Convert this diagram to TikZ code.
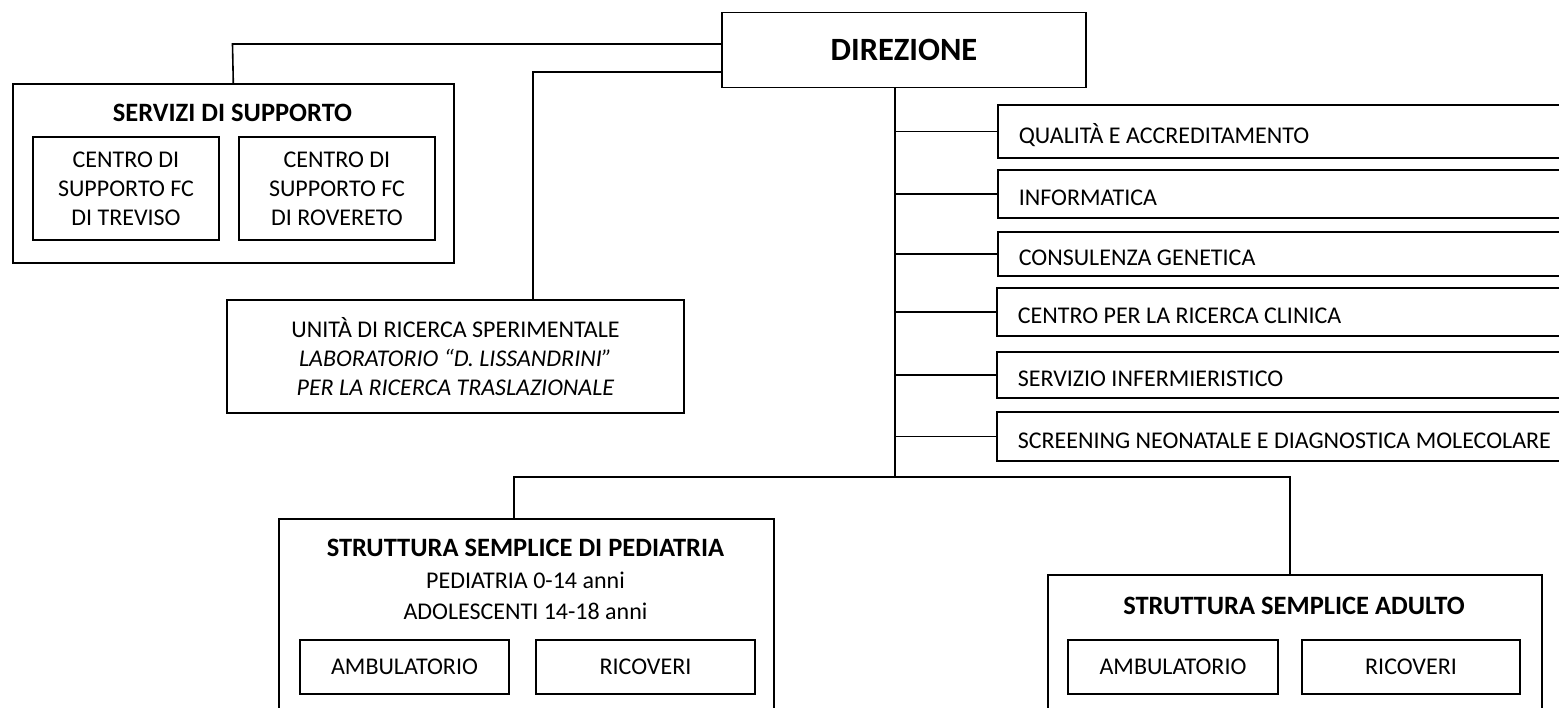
\documentclass[tikz,border=0pt]{standalone}
\usepackage{fontspec}
\setmainfont{Carlito}
\usepackage{tikz}

\begin{document}
\begin{tikzpicture}[x=1pt, y=-1pt,
    box/.style={draw, line width=1.6pt, rectangle, inner sep=0pt, align=center},
    txt/.style={font=\fontsize{24}{29}\selectfont},
    head/.style={font=\fontsize{26.5}{30}\selectfont\bfseries},
    sidebox/.style={box, txt, anchor=west, text width=560pt, inner xsep=21pt, align=flush left,
        text height=24pt, text depth=0pt},
    link/.style={line width=1.6pt}]
        \useasboundingbox (0,0) rectangle (1559,708);
        \clip (0,0) rectangle (1559,708);

        % Direzione
        \node[box, minimum width=364pt, minimum height=75pt,
            font=\fontsize{32.5}{38}\selectfont\bfseries] (direzione) at (904,50) {DIREZIONE};

        % Servizi di supporto
        \node[box, anchor=north west, minimum width=441pt, minimum height=179pt] (servizi) at (12,83) {};
        \node[head, anchor=base] (servtitle) at (232.5,122) {SERVIZI DI SUPPORTO};
        \node[box, txt, minimum width=186pt, minimum height=103pt] (treviso) at (126,188.5)
            {CENTRO DI\\SUPPORTO FC\\DI TREVISO};
        \node[box, txt, minimum width=196pt, minimum height=103pt] (rovereto) at (337,188.5)
            {CENTRO DI\\SUPPORTO FC\\DI ROVERETO};
        \coordinate (servjoin) at (232.5,44);
        \draw[link] (servizi.north) -- (servjoin) -- (servjoin -| direzione.west);

        % Unita di ricerca
        \node[box, txt, minimum width=457pt, minimum height=113pt] (unita) at (455.5,356.5)
            {UNITÀ DI RICERCA SPERIMENTALE\\\textit{LABORATORIO “D. LISSANDRINI”}\\\textit{PER LA RICERCA TRASLAZIONALE}};
        \coordinate (labjoin) at (533,72);
        \draw[link] (unita.north -| labjoin) -- (labjoin) -- (labjoin -| direzione.west);

        % Staff
        \node[sidebox, minimum height=53pt] (qualita) at (997,131.5) {QUALITÀ E ACCREDITAMENTO};
        \node[sidebox, minimum height=48pt] (informatica) at (997,194) {INFORMATICA};
        \node[sidebox, minimum height=44pt] (genetica) at (997,254) {CONSULENZA GENETICA};
        \node[sidebox, minimum height=48pt] (clinica) at (996,312) {CENTRO PER LA RICERCA CLINICA};
        \node[sidebox, minimum height=46pt] (infermieri) at (996,375) {SERVIZIO INFERMIERISTICO};
        \node[sidebox, minimum height=49pt] (screening) at (996,436.5) {SCREENING NEONATALE E DIAGNOSTICA MOLECOLARE};
        \coordinate (hub) at (895,477);
        \draw[link] (hub |- direzione.south) -- (hub);
        \foreach \n in {qualita,informatica,genetica,clinica,infermieri,screening}
            \draw[link] (\n.west -| hub) -- (\n.west);

        % Pediatria
        \node[box, anchor=north west, minimum width=495pt, minimum height=230pt] (pediatria) at (278,518) {};
        \node[head, anchor=base] (pedtitle) at (525.5,556.5) {STRUTTURA SEMPLICE DI PEDIATRIA};
        \node[txt, anchor=base] (pedeta) at (525.5,588) {PEDIATRIA 0-14 anni};
        \node[txt, anchor=base] (adoleta) at (525.5,619) {ADOLESCENTI 14-18 anni};
        \node[box, txt, minimum width=209pt, minimum height=54pt] (pedamb) at (404.5,667) {AMBULATORIO};
        \node[box, txt, minimum width=219pt, minimum height=54pt] (pedric) at (645.5,667) {RICOVERI};

        % Adulto
        \node[box, anchor=north west, minimum width=494pt, minimum height=200pt] (adulto) at (1047,574) {};
        \node[head, anchor=base] (adtitle) at (1294,614.5) {STRUTTURA SEMPLICE ADULTO};
        \node[box, txt, minimum width=210pt, minimum height=54pt] (adamb) at (1173,667) {AMBULATORIO};
        \node[box, txt, minimum width=218pt, minimum height=54pt] (adric) at (1411,667) {RICOVERI};

        % Bus to the two units
        \coordinate (pedjoin) at (514,477);
        \coordinate (adjoin) at (1290,477);
        \draw[link] (pedjoin |- pediatria.north) -- (pedjoin) -- (adjoin) -- (adjoin |- adulto.north);
    \end{tikzpicture}
\end{document}
